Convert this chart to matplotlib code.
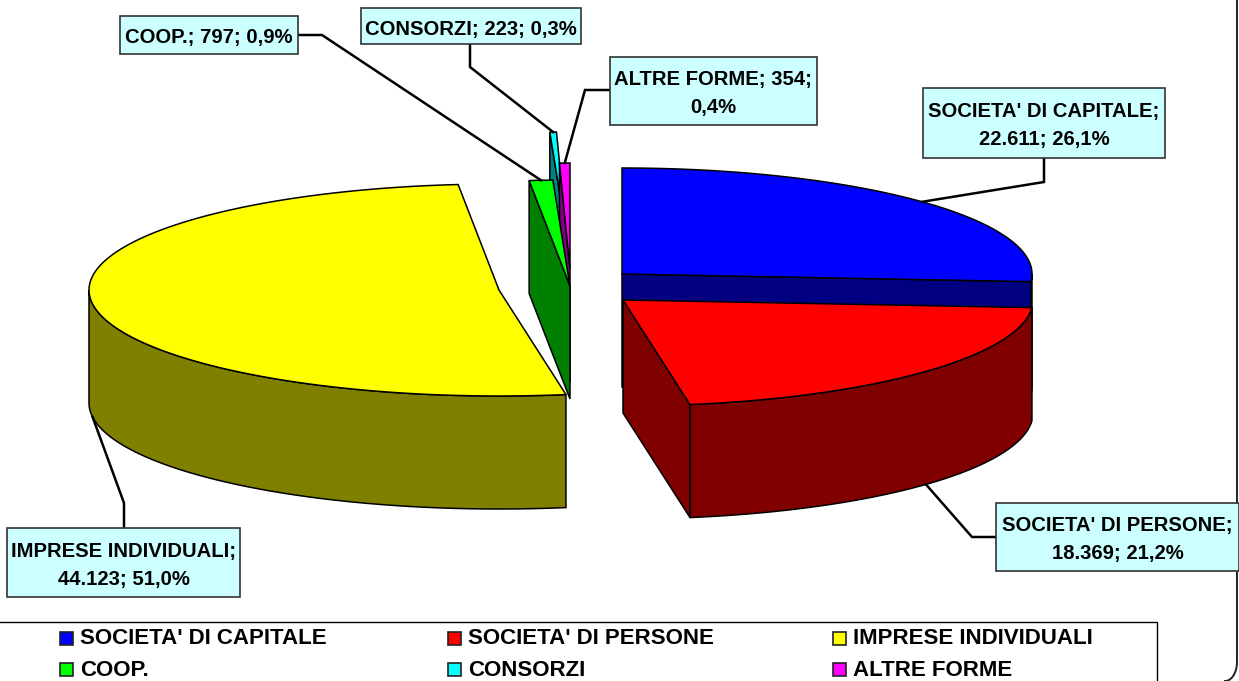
import numpy as np
import matplotlib
matplotlib.use('Agg')
import matplotlib.pyplot as plt
from matplotlib.patches import Polygon, Rectangle

plt.rcParams['font.family'] = ['Liberation Sans', 'DejaVu Sans']

# Data
names = ["SOCIETA' DI CAPITALE", "SOCIETA' DI PERSONE", "IMPRESE INDIVIDUALI", "COOP.", "CONSORZI", "ALTRE FORME"]
values = [22611, 18369, 44123, 797, 223, 354]
top_colors = ['#0000FF', '#FF0000', '#FFFF00', '#00FF00', '#00FFFF', '#FF00FF']
side_colors = ['#000080', '#800000', '#808000', '#008000', '#008080', '#800080']

# where each exploded slice has its apex, in pixels
apex = [(622, 274), (623, 300), (499, 290), (570, 286), (567, 238), (570, 269)]
RX, RY, DEPTH = 410, 106, 113

# label boxes: x0, y0, x1, y1, and the leader line start and elbow
boxes = [(923, 88, 1165, 158), (996, 503, 1239, 571), (7, 528, 240, 597),
         (120, 16, 298, 54), (361, 8, 581, 44), (610, 57, 817, 125)]
leader_start = [(1044, 158), (996, 537), (124, 528), (298, 35), (470, 44), (610, 90)]
leader_elbow = [(1044, 182), (972, 537), (124, 503), (322, 35), (470, 67), (585, 90)]
# text before and after the line break of each label
label_fmt = ['{n};\n{v}; {p}', '{n};\n{v}; {p}', '{n};\n{v}; {p}', '{n}; {v}; {p}', '{n}; {v}; {p}', '{n}; {v};\n{p}']


def rim(c, a):
    return c[0] + RX * np.sin(a), c[1] - RY * np.cos(a)


fig = plt.figure(figsize=(12.39, 6.81), dpi=100)
ax = fig.add_axes([0, 0, 1, 1])
ax.set_xlim(0, 1239)
ax.set_ylim(681, 0)
ax.axis('off')

total = sum(values)
ends = np.cumsum(values) / total * 2 * np.pi
starts = np.r_[0, ends[:-1]]

# back to front
order = [0, 1, 4, 5, 3, 2]
for n, i in enumerate(order):
    c = apex[i]
    a0, a1 = starts[i], ends[i]
    z = 2 + n
    # outer wall, only the part that faces the viewer
    lo, hi = max(a0, np.pi / 2), min(a1, 3 * np.pi / 2)
    if hi > lo:
        bx, by = rim(c, np.linspace(lo, hi, 120))
        pts = np.r_[np.c_[bx, by], np.c_[bx[::-1], by[::-1] + DEPTH]]
        ax.add_patch(Polygon(pts, fc=side_colors[i], ec='k', lw=1.1, zorder=z))
    # cut face, yellow hides its own
    if i != 2:
        ex, ey = rim(c, a1 if i < 2 else a0)
        face = [c, (ex, ey), (ex, ey + DEPTH), (c[0], c[1] + DEPTH)]
        ax.add_patch(Polygon(face, fc=side_colors[i], ec='k', lw=1.1, zorder=z))
    x, y = rim(c, np.linspace(a0, a1, 120))
    ax.add_patch(Polygon(np.r_[[c], np.c_[x, y]], fc=top_colors[i], ec='k', lw=1.1, zorder=z))

# labels with leader lines
for i, name in enumerate(names):
    mid = (starts[i] + ends[i]) / 2
    px, py = rim(apex[i], mid)
    if np.pi / 2 < mid < 3 * np.pi / 2:
        py += DEPTH
    lx = [leader_start[i][0], leader_elbow[i][0], px]
    ly = [leader_start[i][1], leader_elbow[i][1], py]
    ax.plot(lx, ly, color='k', lw=1.8, zorder=20, solid_joinstyle='miter')

    val = '{:,}'.format(values[i]).replace(',', '.')
    pct = '{:.1f}%'.format(values[i] / total * 100).replace('.', ',')
    txt = label_fmt[i].format(n=name, v=val, p=pct)
    x0, y0, x1, y1 = boxes[i]
    ax.add_patch(Rectangle((x0, y0), x1 - x0, y1 - y0, fc='#CCFFFF', ec='#333333', lw=1.2, zorder=21, clip_on=False))
    ax.text((x0 + x1) / 2, (y0 + y1) / 2 + 3, txt, ha='center', va='center', fontsize=14.6, fontweight='bold',
            linespacing=1.6, zorder=22)

# legend
ax.plot([0, 1157, 1157], [622, 622, 681], color='k', lw=1.0, zorder=20)
leg_x = [60, 448, 833]
leg_y = [638, 669]
for i, name in enumerate(names):
    sx = leg_x[i % 3]
    sy = leg_y[i // 3]
    ax.add_patch(Rectangle((sx, sy - 6.5), 13, 13, fc=top_colors[i], ec='#222222', lw=1.2, zorder=20))
    ax.text(sx + 20, sy + 1, name, ha='left', va='center', fontsize=16, fontweight='bold', zorder=20)

# chart area border, rounded corner at the bottom right
ax.plot([1237, 1237], [0, 662], color='#222222', lw=1.4, zorder=1)
t = np.linspace(0, np.pi / 2, 20)
ax.plot(1225 + 12 * np.cos(t), 662 + 19 * np.sin(t), color='#222222', lw=1.4, zorder=1)

fig.savefig('out.png', dpi=100)
